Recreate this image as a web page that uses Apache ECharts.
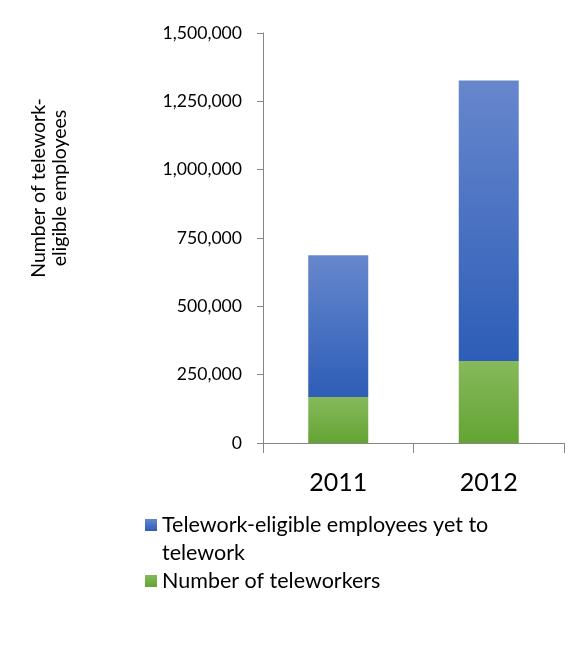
<!DOCTYPE html>
<html>
<head>
<meta charset="utf-8">
<script src="https://cdn.jsdelivr.net/npm/echarts@6/dist/echarts.min.js"></script>
<style>
html,body{margin:0;padding:0;background:#fff;}
#chart{width:587px;height:668px;}
</style>
</head>
<body>
<div id="chart"></div>
<script>
const categories = ['2011', '2012'];
const teleworkers = [168000, 300000];
const yetToTelework = [519000, 1026000];
const yTicks = [0, 250000, 500000, 750000, 1000000, 1250000, 1500000];

const FONT = 'Lato';
const chart = echarts.init(document.getElementById('chart'), null, {renderer: 'canvas'});

function grad(top, bottom) {
  return new echarts.graphic.LinearGradient(0, 0, 0, 1, [
    {offset: 0, color: top}, {offset: 1, color: bottom}
  ]);
}

chart.setOption({
  animation: false,
  backgroundColor: '#ffffff',
  grid: {left: 263, top: 33, right: 23, bottom: 225, containLabel: false},
  xAxis: {
    type: 'category',
    data: categories,
    axisLine: {lineStyle: {color: '#868686', width: 1}},
    axisTick: {show: true, length: 10, lineStyle: {color: '#868686'}},
    axisLabel: {fontFamily: FONT, fontSize: 25, color: '#000', margin: 27}
  },
  yAxis: {
    type: 'value',
    min: yTicks[0],
    max: yTicks[yTicks.length - 1],
    interval: yTicks[1] - yTicks[0],
    axisLine: {show: true, lineStyle: {color: '#868686', width: 1}},
    axisTick: {show: true, length: 6, lineStyle: {color: '#868686'}},
    splitLine: {show: false},
    axisLabel: {
      fontFamily: FONT, fontSize: 17.6, color: '#000', margin: 21,
      formatter: v => v.toLocaleString('en-US')
    }
  },
  legend: [
    {
      data: ['Telework-eligible employees yet to telework'],
      orient: 'vertical', left: 145, top: 483, padding: 0,
      itemWidth: 12, itemHeight: 12, icon: 'rect',
      formatter: () => '\nTelework-eligible employees yet to\ntelework',
      textStyle: {fontFamily: FONT, fontSize: 21.5, color: '#000', lineHeight: 28}
    },
    {
      data: ['Number of teleworkers'],
      orient: 'vertical', left: 145, top: 567, padding: 0,
      itemWidth: 12, itemHeight: 12, icon: 'rect',
      textStyle: {fontFamily: FONT, fontSize: 21.5, color: '#000', lineHeight: 28}
    }
  ],
  graphic: [{
    type: 'text',
    x: 49, y: 188,
    rotation: Math.PI / 2,
    style: {
      text: 'Number of telework-\neligible employees',
      fontFamily: FONT, fontSize: 19.5, lineHeight: 21,
      fill: '#000', align: 'center', verticalAlign: 'middle'
    }
  }],
  series: [
    {
      name: 'Number of teleworkers',
      type: 'bar', stack: 'total', barWidth: 60,
      data: teleworkers,
      itemStyle: {color: grad('#87b95b', '#63a434')}
    },
    {
      name: 'Telework-eligible employees yet to telework',
      type: 'bar', stack: 'total', barWidth: 60,
      data: yetToTelework,
      itemStyle: {color: grad('#6787cd', '#2d5db7')}
    }
  ]
});
</script>
</body>
</html>
